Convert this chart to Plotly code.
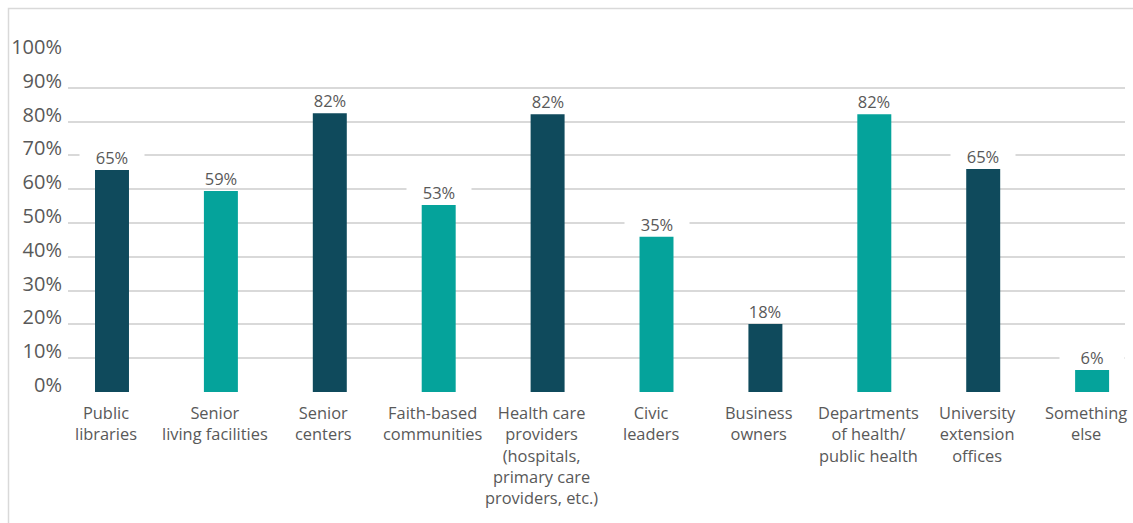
import plotly.graph_objects as go

categories = [
    "Public<br>libraries",
    "Senior<br>living facilities",
    "Senior<br>centers",
    "Faith-based<br>communities",
    "Health care<br>providers<br>(hospitals,<br>primary care<br>providers, etc.)",
    "Civic<br>leaders",
    "Business<br>owners",
    "Departments<br>of health/<br>public health",
    "University<br>extension<br>offices",
    "Something<br>else",
]
# bar heights as drawn in the picture (percent)
values = [65.7, 59.5, 82.5, 55.3, 82.2, 45.9, 20.1, 82.2, 66, 6.5]
# data labels as printed
labels = ["65%", "59%", "82%", "53%", "82%", "35%", "18%", "82%", "65%", "6%"]
DARK = "#0F4A5C"
TEAL = "#05A39B"
colors = [DARK, TEAL, DARK, TEAL, DARK, TEAL, DARK, TEAL, DARK, TEAL]
y_ticks = list(range(0, 101, 10))
y_ticktext = [f"{t}%" for t in y_ticks]

W, H = 1133, 523
L, R = 68, 1125
T, B = 54, 392
x = list(range(len(categories)))
GREY = "#595959"

fig = go.Figure()
fig.add_trace(go.Bar(
    x=x, y=values, marker=dict(color=colors, line=dict(width=0)),
    width=0.312, hoverinfo="skip",
))

# data labels with white box (breaks gridlines like the original)
for xi, v, t in zip(x, values, labels):
    fig.add_annotation(
        x=xi, y=v, text=t, showarrow=False, yanchor="bottom", yshift=4,
        font=dict(family="Open Sans", size=16.5, color=GREY),
        bgcolor="white", width=62, height=13, valign="middle",
    )

# category labels below the bars
for xi, cat in zip(x, categories):
    fig.add_annotation(
        x=xi, y=0, text=cat, showarrow=False, yanchor="top",
        yshift=-7, xshift=-6, align="center",
        font=dict(family="Open Sans", size=16.4, color=GREY),
    )

pw, ph = R - L, B - T
def px_x(p):
    return (p - L) / pw
def px_y(p):
    return (B - p) / ph

fig.add_shape(
    type="path", xref="paper", yref="paper",
    path=f"M {px_x(8.5)} {px_y(530)} L {px_x(8.5)} {px_y(8.5)} L {px_x(1140)} {px_y(8.5)}",
    line=dict(color="#D9D9D9", width=1.5),
)

fig.update_layout(
    width=W, height=H,
    margin=dict(l=L, r=W - R, t=T, b=H - B, pad=0),
    paper_bgcolor="white", plot_bgcolor="white",
    showlegend=False,
    font=dict(family="Open Sans", color=GREY),
    xaxis=dict(
        range=[-0.404, 9.302], showticklabels=False,
        showgrid=False, zeroline=False, showline=False, ticks="", fixedrange=True,
    ),
    yaxis=dict(
        range=[0, 100], tickmode="array", tickvals=y_ticks, ticktext=y_ticktext,
        showgrid=True, gridcolor="#D9D9D9", gridwidth=1.5, zeroline=False,
        showline=False, ticks="", tickfont=dict(size=20, color=GREY),
        ticklabelshift=-7, ticklabelstandoff=5, fixedrange=True,
    ),
    bargap=0.7,
)

fig.write_html("out.html", config={"displayModeBar": False},
               post_script="document.body.style.margin='0px';")
